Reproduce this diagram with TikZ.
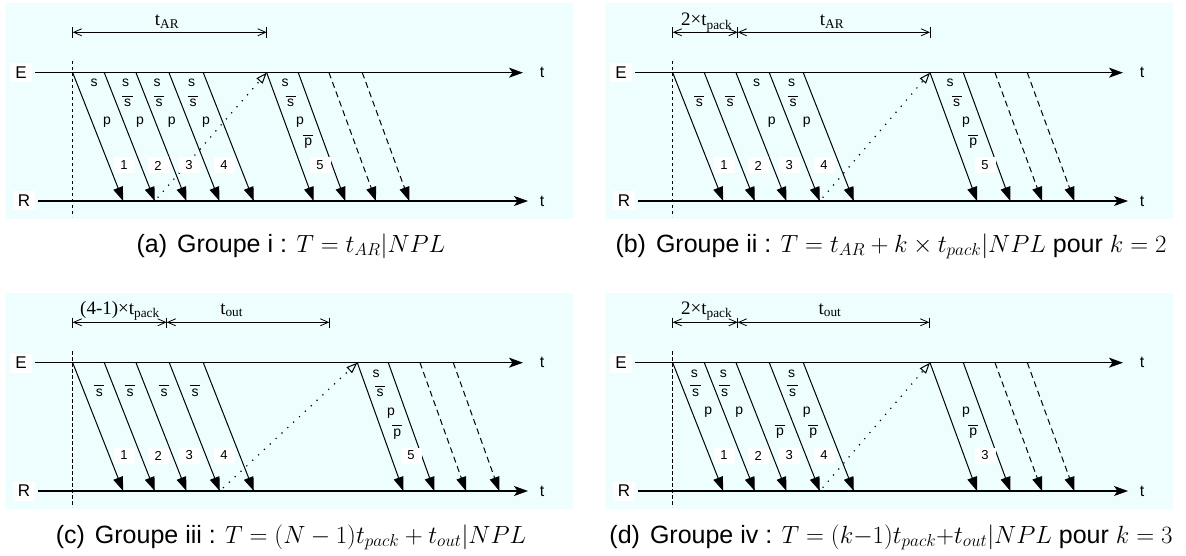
\documentclass[tikz,border=0pt]{standalone}
\usepackage{fontspec}
\setmainfont{Liberation Sans}
\newfontfamily\dimserif{Liberation Serif}
\usetikzlibrary{arrows.meta}
\definecolor{panelbg}{RGB}{238,254,254}
\newcommand\ovl[1]{\vbox{\hrule width 0.72em height 0.8pt\kern 2.4pt\hbox to 0.72em{\hss#1\hss}}}
\newcommand\msgarrow[4]{\coordinate (#1s) at (#2,72.7); \coordinate (#1e) at ({#2+#3},201); \draw[#4] (#1s) -- (#1e);}
\newcommand\lb[4]{\node[lbl] (#1) at (#2,#3) {#4};}
\newcommand\nm[3]{\node[num] (#1) at (#2,165.5) {#3};}
\newcommand\dimtick[2]{\coordinate (#1a) at (#2,27.5); \coordinate (#1b) at (#2,38.3); \draw[dtick] (#1a) -- (#1b);}
\newcommand\dimarrow[3]{\coordinate (#1l) at (#2,32.3); \coordinate (#1r) at (#3,32.3); \draw[dimline] (#1l) -- (#1r);}
\newcommand\frameP{%
  \path[bgbox] (5,3) rectangle (573,219);
  \coordinate (v1) at (72.7,61); \coordinate (v2) at (72.7,217);
  \draw[vdash] (v1) -- (v2);
  \node[axlbl] (E) at (21,73) {E};
  \node[axlbl] (R) at (24,201) {R};
  \coordinate (Es) at (35,72.7); \coordinate (Ee) at (523,72.7);
  \coordinate (Rs) at (38,201); \coordinate (Re) at (528,201);
  \draw[axis] (Es) -- (Ee);
  \draw[axis] (Rs) -- (Re);
  \node[tlbl] (tE) at (542,72.7) {t};
  \node[tlbl] (tR) at (542,201) {t};
}
\begin{document}
\begin{tikzpicture}[x=1pt,y=-1pt,
  bgbox/.style={fill=panelbg},
  vdash/.style={line width=0.7pt, dash pattern=on 3.5pt off 2.5pt},
  axis/.style={line width=1.1pt, -{Stealth[length=14pt,width=10pt,inset=3.5pt]}},
  msg/.style={line width=1pt, -{Triangle[length=14pt,width=10pt]}},
  msgdash/.style={msg, dash pattern=on 6pt off 4pt},
  ack/.style={line width=1.7pt, line cap=round, dash pattern=on 0pt off 8pt, shorten <=5pt,
     -{Triangle[open,length=11pt,width=8pt,line width=1pt]}},
  dimline/.style={line width=0.8pt, {Straight Barb[length=8pt,width=7pt]}-{Straight Barb[length=8pt,width=7pt]}},
  dtick/.style={line width=0.8pt},
  lbl/.style={font=\fontsize{14}{14}\selectfont, inner sep=0pt, anchor=base},
  num/.style={font=\fontsize{13}{13}\selectfont, fill=white, minimum width=21pt, minimum height=16pt, inner sep=0pt},
  axlbl/.style={font=\fontsize{17}{17}\selectfont, fill=white, minimum width=22pt, minimum height=19pt, inner sep=0pt},
  tlbl/.style={font=\fontsize{16}{16}\selectfont, inner sep=0pt},
  dimlbl/.style={font=\dimserif\fontsize{19}{19}\selectfont, inner sep=0pt, anchor=base},
  caption/.style={font=\fontsize{25}{30}\selectfont, inner sep=0pt, anchor=base}
]
\useasboundingbox (0,0) rectangle (1186,556);
\fill[white] (0,0) rectangle (1186,556);

% ---------- (a)
\begin{scope}[name prefix=a-]
  \frameP
  \dimtick{d0}{72.7} \dimtick{d1}{266.7}
  \dimarrow{da}{72.7}{266.7}
  \node[dimlbl] (dla) at (167,26) {t\textsubscript{AR}};
  \msgarrow{m1}{72.7}{50.5}{msg}
  \msgarrow{m2}{104.3}{50.5}{msg}
  \msgarrow{m3}{136}{50.5}{msg}
  \msgarrow{m4}{169}{50.5}{msg}
  \msgarrow{m5}{203.3}{50.5}{msg}
  \msgarrow{n1}{266.7}{47}{msg}
  \msgarrow{n2}{298.3}{47}{msg}
  \msgarrow{n3}{329}{47}{msgdash}
  \msgarrow{n4}{362.3}{47}{msgdash}
  \draw[ack] (m2e) -- (n1s);
  \lb{l11}{94}{87}{s} \lb{l12}{107}{125}{p} \nm{k1}{124}{1}
  \lb{l21}{125.7}{87}{s} \lb{l22}{127.5}{106.5}{\ovl{s}} \lb{l23}{140}{125}{p} \nm{k2}{158}{2}
  \lb{l31}{157}{87}{s} \lb{l32}{159}{106.5}{\ovl{s}} \lb{l33}{171.7}{125}{p} \nm{k3}{189}{3}
  \lb{l41}{191.7}{87}{s} \lb{l42}{193}{106.5}{\ovl{s}} \lb{l43}{206}{125}{p} \nm{k4}{224}{4}
  \lb{l51}{285}{87}{s} \lb{l52}{290.7}{106.5}{\ovl{s}} \lb{l53}{300}{125}{p} \lb{l54}{308.3}{146}{\ovl{p}} \nm{k5}{320}{5}
\end{scope}

% ---------- (b)
\begin{scope}[shift={(600,0)},name prefix=b-]
  \frameP
  \dimtick{d0}{72.7} \dimtick{d1}{137.7} \dimtick{d2}{330}
  \dimarrow{da}{72.7}{137.7}
  \dimarrow{db}{137.7}{330}
  \node[dimlbl] (dla) at (106.7,26) {2×t\textsubscript{pack}};
  \node[dimlbl] (dlb) at (232,26) {t\textsubscript{AR}};
  \msgarrow{m1}{72.7}{50.5}{msg}
  \msgarrow{m2}{104.3}{50.5}{msg}
  \msgarrow{m3}{136}{50.5}{msg}
  \msgarrow{m4}{169.3}{50.5}{msg}
  \msgarrow{m5}{203.3}{50.5}{msg}
  \msgarrow{n1}{330}{47}{msg}
  \msgarrow{n2}{363.3}{47}{msg}
  \msgarrow{n3}{395}{47}{msgdash}
  \msgarrow{n4}{427.3}{47}{msgdash}
  \draw[ack] (m4e) -- (n1s);
  \lb{l12}{99.3}{106.5}{\ovl{s}} \nm{k1}{124}{1}
  \lb{l22}{130}{106.5}{\ovl{s}} \nm{k2}{158.3}{2}
  \lb{l31}{156.7}{87}{s} \lb{l33}{171.7}{125}{p} \nm{k3}{189.3}{3}
  \lb{l41}{191.7}{87}{s} \lb{l42}{193}{106.5}{\ovl{s}} \lb{l43}{206.7}{125}{p} \nm{k4}{224}{4}
  \lb{l51}{350}{87}{s} \lb{l52}{356.7}{106.5}{\ovl{s}} \lb{l53}{366}{125}{p} \lb{l54}{373.3}{146}{\ovl{p}} \nm{k5}{385}{5}
\end{scope}

% ---------- (c)
\begin{scope}[shift={(0,290)},name prefix=c-]
  \frameP
  \dimtick{d0}{72.7} \dimtick{d1}{166.7} \dimtick{d2}{329.3}
  \dimarrow{da}{72.7}{166.7}
  \dimarrow{db}{166.7}{329.3}
  \node[dimlbl] (dla) at (120,24) {(4-1)×t\textsubscript{pack}};
  \node[dimlbl] (dlb) at (231.7,24) {t\textsubscript{out}};
  \msgarrow{m1}{72.7}{50.5}{msg}
  \msgarrow{m2}{104.3}{50.5}{msg}
  \msgarrow{m3}{136}{50.5}{msg}
  \msgarrow{m4}{169.3}{50.5}{msg}
  \msgarrow{m5}{203.3}{50.5}{msg}
  \msgarrow{n1}{357.3}{46}{msg}
  \msgarrow{n2}{388.3}{46}{msg}
  \msgarrow{n3}{420}{46}{msgdash}
  \msgarrow{n4}{453.3}{46}{msgdash}
  \draw[ack] (m4e) -- (n1s);
  \lb{l12}{99.3}{106}{\ovl{s}} \nm{k1}{124}{1}
  \lb{l22}{130}{106}{\ovl{s}} \nm{k2}{158.3}{2}
  \lb{l32}{164}{106}{\ovl{s}} \nm{k3}{189.3}{3}
  \lb{l42}{195}{106}{\ovl{s}} \nm{k4}{224}{4}
  \lb{l51}{376}{87}{s} \lb{l52}{380}{106.5}{\ovl{s}} \lb{l53}{391}{125}{p} \lb{l54}{397.3}{146}{\ovl{p}} \nm{k5}{411}{5}
\end{scope}

% ---------- (d)
\begin{scope}[shift={(600,290)},name prefix=d-]
  \frameP
  \dimtick{d0}{72.7} \dimtick{d1}{137.7} \dimtick{d2}{329.3}
  \dimarrow{da}{72.7}{137.7}
  \dimarrow{db}{137.7}{329.3}
  \node[dimlbl] (dla) at (106.7,24) {2×t\textsubscript{pack}};
  \node[dimlbl] (dlb) at (230,24) {t\textsubscript{out}};
  \msgarrow{m1}{72.7}{50.5}{msg}
  \msgarrow{m2}{104.3}{50.5}{msg}
  \msgarrow{m3}{136}{50.5}{msg}
  \msgarrow{m4}{169.3}{50.5}{msg}
  \msgarrow{m5}{203.3}{50.5}{msg}
  \msgarrow{n1}{330}{47}{msg}
  \msgarrow{n2}{363.3}{47}{msg}
  \msgarrow{n3}{395}{47}{msgdash}
  \msgarrow{n4}{427.3}{47}{msgdash}
  \draw[ack] (m4e) -- (n1s);
  \lb{l11}{94.3}{87}{s} \lb{l12}{95.5}{106}{\ovl{s}} \lb{l13}{108.3}{124}{p} \nm{k1}{124}{1}
  \lb{l21}{123.3}{87}{s} \lb{l22}{124.5}{106}{\ovl{s}} \lb{l23}{139.3}{124}{p} \nm{k2}{158.3}{2}
  \lb{l34}{180}{145.5}{\ovl{p}} \nm{k3}{189.3}{3}
  \lb{l41}{191.7}{87}{s} \lb{l42}{192.5}{106}{\ovl{s}} \lb{l43}{206.7}{124}{p} \lb{l44}{213.3}{145.5}{\ovl{p}} \nm{k4}{224}{4}
  \lb{l53}{366}{124}{p} \lb{l54}{373.3}{145.5}{\ovl{p}} \nm{k5}{385}{3}
\end{scope}

% ---------- captions
\node[caption] (capa) at (291,252) {(a)\hspace{0.4em}Groupe i : $T=t_{AR}|NPL$};
\node[caption] (capb) at (891,252) {(b)\hspace{0.4em}Groupe ii : $T=t_{AR}+k\times t_{pack}|NPL$ pour $k=2$};
\node[caption] (capc) at (291,543) {(c)\hspace{0.4em}Groupe iii : $T=(N-1)t_{pack}+t_{out}|NPL$};
\node[caption] (capd) at (891,543) {(d)\hspace{0.4em}Groupe iv : $T=(k{-}1)t_{pack}{+}t_{out}|NPL$ pour $k=3$};
\end{tikzpicture}
\end{document}
